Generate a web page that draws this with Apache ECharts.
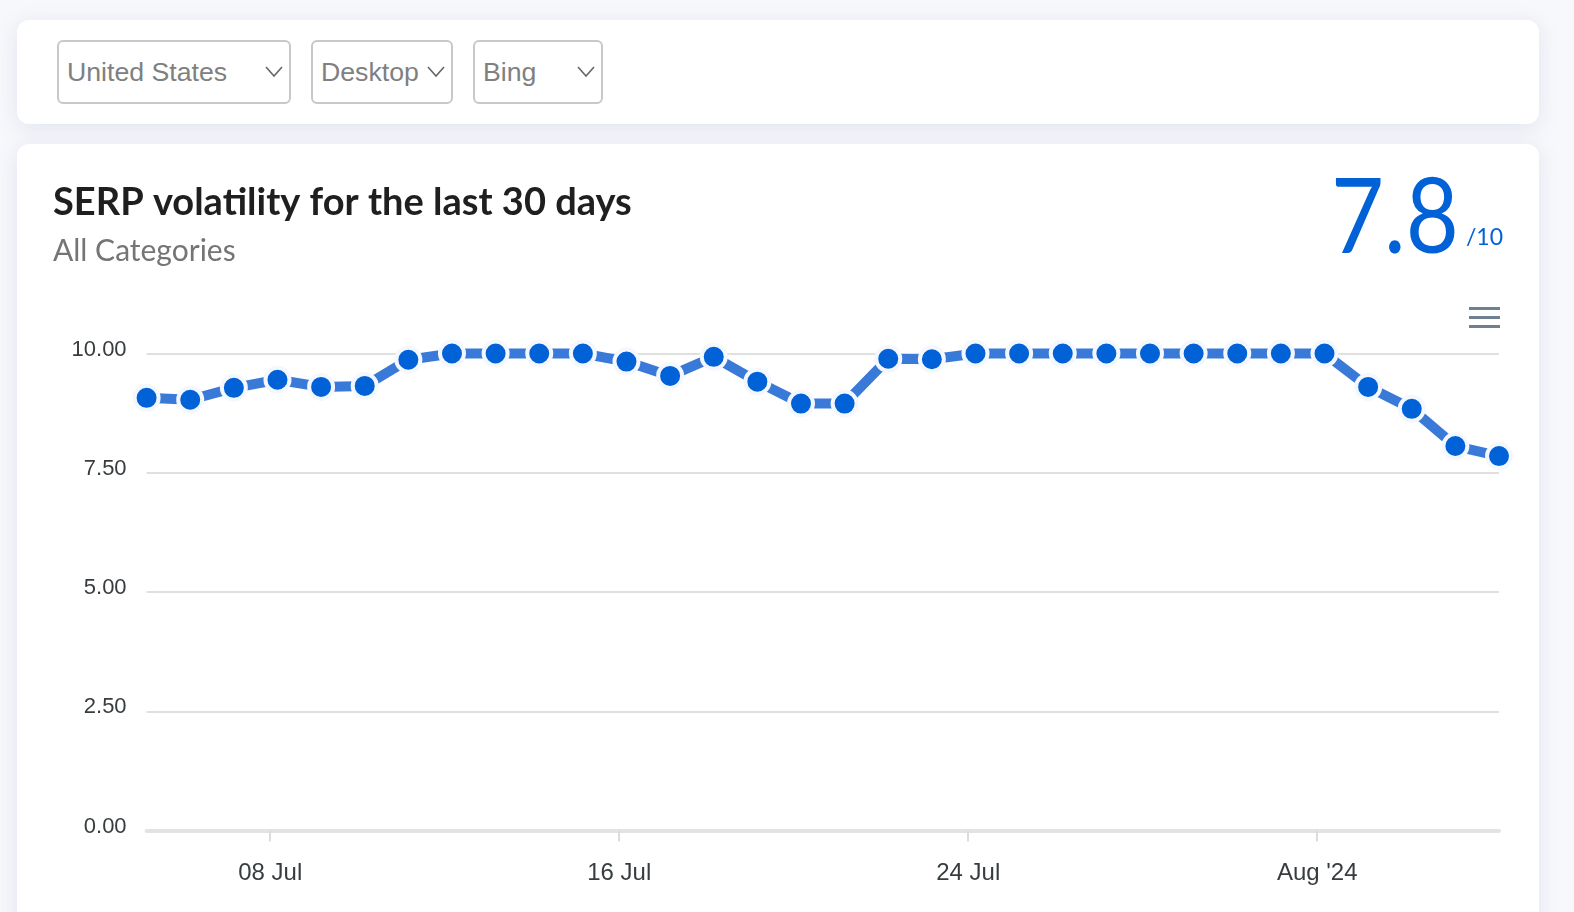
<!DOCTYPE html>
<html>
<head>
<meta charset="utf-8">
<title>SERP volatility</title>
<script src="https://cdn.jsdelivr.net/npm/echarts@6/dist/echarts.min.js"></script>
<style>
  html, body { margin: 0; padding: 0; width: 1574px; height: 912px; overflow: hidden; background: #f7f8fb; }
  .card { position: absolute; left: 17px; width: 1522px; background: #fff; border-radius: 12px; box-shadow: 0 4px 20px rgba(200, 204, 226, 0.45); }
  #filters { top: 20px; height: 104px; }
  #panel { top: 144px; height: 800px; }
  .pick { position: absolute; top: 20px; height: 60px; border: 2px solid #c8c8c8; border-radius: 6px; font: 26.7px "Liberation Sans", sans-serif; color: #808080; line-height: 60px; padding-left: 8px; box-sizing: content-box; }
  .pick svg { position: absolute; right: 6px; top: 24px; }
  #chart { position: absolute; left: 0; top: 0; width: 1574px; height: 912px; }
</style>
</head>
<body>
<div class="card" id="filters">
  <div class="pick" style="left:40px;width:222px">United States<svg width="18" height="12"><path d="M1 1 L9 10 L17 1" fill="none" stroke="#666" stroke-width="1.6"/></svg></div>
  <div class="pick" style="left:294px;width:130px">Desktop<svg width="18" height="12"><path d="M1 1 L9 10 L17 1" fill="none" stroke="#666" stroke-width="1.6"/></svg></div>
  <div class="pick" style="left:456px;width:118px">Bing<svg width="18" height="12"><path d="M1 1 L9 10 L17 1" fill="none" stroke="#666" stroke-width="1.6"/></svg></div>
</div>
<div class="card" id="panel"></div>
<div id="chart"></div>
<script>
const days = [
  '2024-07-05', '2024-07-06', '2024-07-07', '2024-07-08', '2024-07-09', '2024-07-10', '2024-07-11', '2024-07-12',
  '2024-07-13', '2024-07-14', '2024-07-15', '2024-07-16', '2024-07-17', '2024-07-18', '2024-07-19', '2024-07-20',
  '2024-07-21', '2024-07-22', '2024-07-23', '2024-07-24', '2024-07-25', '2024-07-26', '2024-07-27', '2024-07-28',
  '2024-07-29', '2024-07-30', '2024-07-31', '2024-08-01', '2024-08-02', '2024-08-03', '2024-08-04', '2024-08-05'
];
const volatility = [
  9.07, 9.03, 9.28, 9.45, 9.3, 9.32, 9.87, 10,
  10, 10, 10, 9.83, 9.53, 9.93, 9.41, 8.95,
  8.95, 9.89, 9.88, 10, 10, 10, 10, 10,
  10, 10, 10, 10, 9.3, 8.84, 8.06, 7.85
];
const tickDays = ['2024-07-08', '2024-07-16', '2024-07-24', '2024-08-01'];
const tickLabels = ['08 Jul', '16 Jul', '24 Jul', "Aug '24"];
const yTicks = { min: 0, max: 10, interval: 2.5 };

// points sit at 04:00 each day, the ticks at midnight
const pointTime = d => Date.parse(d + 'T04:00:00Z');
const tickTimes = tickDays.map(d => Date.parse(d + 'T00:00:00Z'));

const chart = echarts.init(document.getElementById('chart'));
chart.setOption({
  animation: false,
  title: {
    text: 'SERP volatility for the last 30 days',
    subtext: 'All Categories',
    left: 53,
    top: 184,
    padding: 0,
    itemGap: 14,
    textStyle: { fontFamily: 'Lato', fontWeight: 700, fontSize: 38, color: '#1f1f1f' },
    subtextStyle: { fontFamily: 'Lato', fontWeight: 400, fontSize: 30, color: '#757575' }
  },
  grid: { left: 146.6, right: 75, top: 353.5, bottom: 81.5 },
  // plain value axis holding timestamps, its labels come from tickLabels
  xAxis: {
    type: 'value',
    min: pointTime(days[0]),
    max: pointTime(days[days.length - 1]),
    axisLine: { lineStyle: { color: '#e3e3e3', width: 4 } },
    axisTick: { customValues: tickTimes, length: 11, lineStyle: { color: '#dcdcdc', width: 2 } },
    axisLabel: {
      customValues: tickTimes,
      formatter: v => tickLabels[tickTimes.indexOf(v)],
      margin: 31,
      color: '#373d3f',
      fontFamily: 'Liberation Sans',
      fontSize: 24
    },
    splitLine: { show: false }
  },
  yAxis: {
    type: 'value',
    min: yTicks.min,
    max: yTicks.max,
    interval: yTicks.interval,
    axisLine: { show: false },
    axisTick: { show: false },
    axisLabel: {
      formatter: v => v.toFixed(2),
      margin: 20,
      verticalAlign: 'bottom',
      lineHeight: 8,
      color: '#373d3f',
      fontFamily: 'Liberation Sans',
      fontSize: 22
    },
    splitLine: { lineStyle: { color: '#e0e0e0', width: 2 } }
  },
  series: [{
    type: 'line',
    clip: false,
    data: days.map((d, i) => [pointTime(d), volatility[i]]),
    symbol: 'circle',
    symbolSize: 24,
    showSymbol: true,
    lineStyle: { color: '#397ad9', width: 10 },
    itemStyle: { color: '#0062d6', borderColor: '#f4f7fd', borderWidth: 4 }
  }],
  graphic: [
    { type: 'text', x: 1331, y: 167, scaleX: 0.88, style: { text: '7.8', font: '400 104px Lato', fill: '#0062d6' } },
    { type: 'text', right: 71, top: 226, style: { text: '/10', font: '400 23px Lato', fill: '#0062d6' } },
    { type: 'group', left: 1469, top: 307, children: [
      { type: 'rect', shape: { x: 0, y: 0, width: 31, height: 3 }, style: { fill: '#6e8192' } },
      { type: 'rect', shape: { x: 0, y: 9, width: 31, height: 3 }, style: { fill: '#6e8192' } },
      { type: 'rect', shape: { x: 0, y: 18, width: 31, height: 3 }, style: { fill: '#6e8192' } }
    ] }
  ]
});
</script>
</body>
</html>
